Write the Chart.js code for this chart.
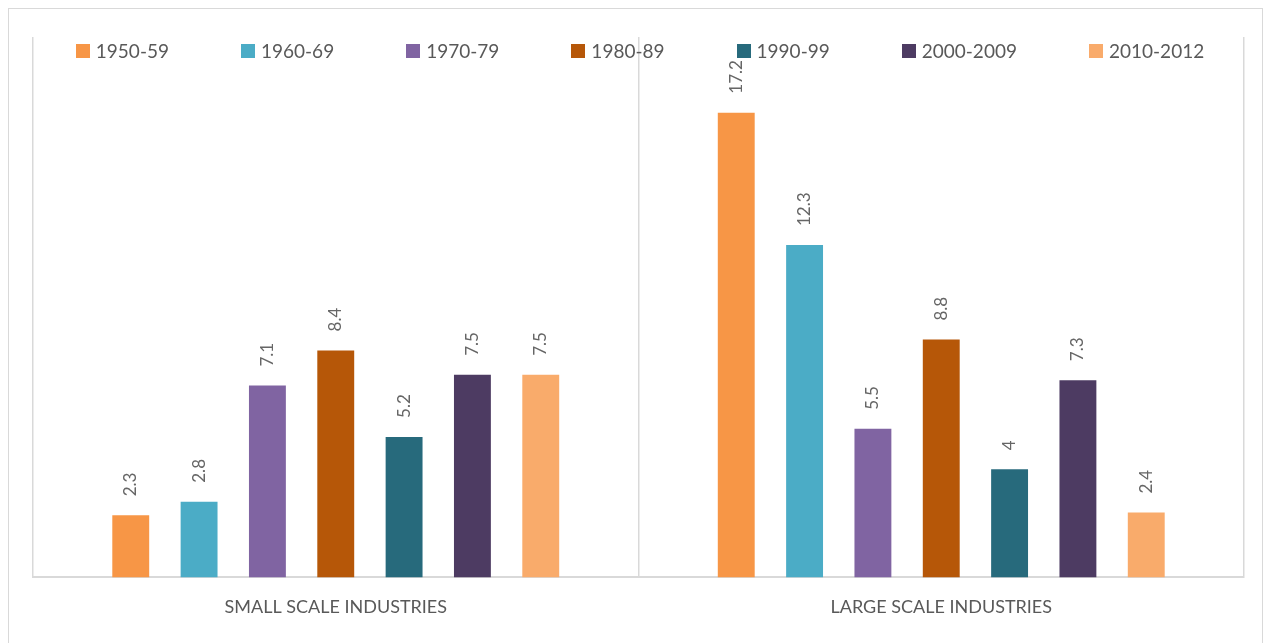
<!DOCTYPE html>
<html>
<head>
<meta charset="utf-8">
<script src="https://cdn.jsdelivr.net/npm/chart.js@4.4.1/dist/chart.umd.min.js"></script>
<style>
  html, body { margin: 0; padding: 0; background: #fff; }
  body { width: 1265px; height: 643px; position: relative; overflow: hidden; font-family: Lato, sans-serif; }
  #frame { position: absolute; left: 8px; top: 8px; width: 1255px; height: 640px; border: 1.5px solid #d9d9d9; box-sizing: border-box; }
  #wrap { position: absolute; left: 0; top: 0; width: 1265px; height: 643px; }
  #legend { position: absolute; left: 0; top: 41px; width: 1280px; display: flex; justify-content: center; gap: 72px; }
  .item { display: flex; align-items: center; height: 20px; line-height: 20px; font-size: 19px; color: #595959; }
  .box { width: 14px; height: 14px; margin-right: 6px; }
</style>
</head>
<body>
<div id="frame"></div>
<div id="wrap"><canvas id="chart"></canvas></div>
<div id="legend"></div>
<script>
// categories and series
var categories = ['SMALL SCALE INDUSTRIES', 'LARGE SCALE INDUSTRIES'];
var periods = ['1950-59', '1960-69', '1970-79', '1980-89', '1990-99', '2000-2009', '2010-2012'];
var colors = ['#F79646', '#4BACC6', '#8064A2', '#B65708', '#276A7C', '#4D3B62', '#F9AB6B'];

// values per period: [small, large]
var v1950 = [2.3, 17.2];
var v1960 = [2.8, 12.3];
var v1970 = [7.1, 5.5];
var v1980 = [8.4, 8.8];
var v1990 = [5.2, 4];
var v2000 = [7.5, 7.3];
var v2010 = [7.5, 2.4];
var seriesValues = [v1950, v1960, v1970, v1980, v1990, v2000, v2010];

var datasets = periods.map(function (p, i) {
  return {
    label: p,
    data: seriesValues[i],
    backgroundColor: colors[i],
    categoryPercentage: 0.79,
    barPercentage: 0.54
  };
});

// html legend
var legendDiv = document.getElementById('legend');
periods.forEach(function (p, i) {
  var item = document.createElement('div');
  item.className = 'item';
  item.innerHTML = '<span class="box" style="background:' + colors[i] + '"></span>' + p;
  legendDiv.appendChild(item);
});

// rotated value labels above bars
var barLabels = {
  id: 'barLabels',
  afterDatasetsDraw: function (chart) {
    var ctx = chart.ctx;
    ctx.save();
    ctx.fillStyle = '#666666';
    ctx.font = '17px Lato';
    ctx.textAlign = 'left';
    ctx.textBaseline = 'middle';
    chart.data.datasets.forEach(function (ds, di) {
      var meta = chart.getDatasetMeta(di);
      meta.data.forEach(function (bar, j) {
        ctx.save();
        ctx.translate(bar.x, bar.y - 19);
        ctx.rotate(-Math.PI / 2);
        ctx.fillText(String(ds.data[j]), 0, 0);
        ctx.restore();
      });
    });
    ctx.restore();
  }
};

Chart.defaults.font.family = 'Lato';

var chart = new Chart(document.getElementById('chart'), {
  type: 'bar',
  data: { labels: categories, datasets: datasets },
  plugins: [barLabels],
  options: {
    responsive: true,
    maintainAspectRatio: false,
    animation: false,
    layout: { padding: { left: 33, right: 21, top: 37, bottom: 6 } },
    plugins: {
      legend: { display: false },
      tooltip: { enabled: false }
    },
    scales: {
      x: {
        grid: { offset: true, color: '#d9d9d9', lineWidth: 1.5, drawTicks: false },
        border: { color: '#d9d9d9', width: 2 },
        ticks: { color: '#595959', font: { size: 18 }, padding: 19 }
      },
      y: {
        display: false,
        min: 0,
        max: 20
      }
    }
  }
});
</script>
</body>
</html>
